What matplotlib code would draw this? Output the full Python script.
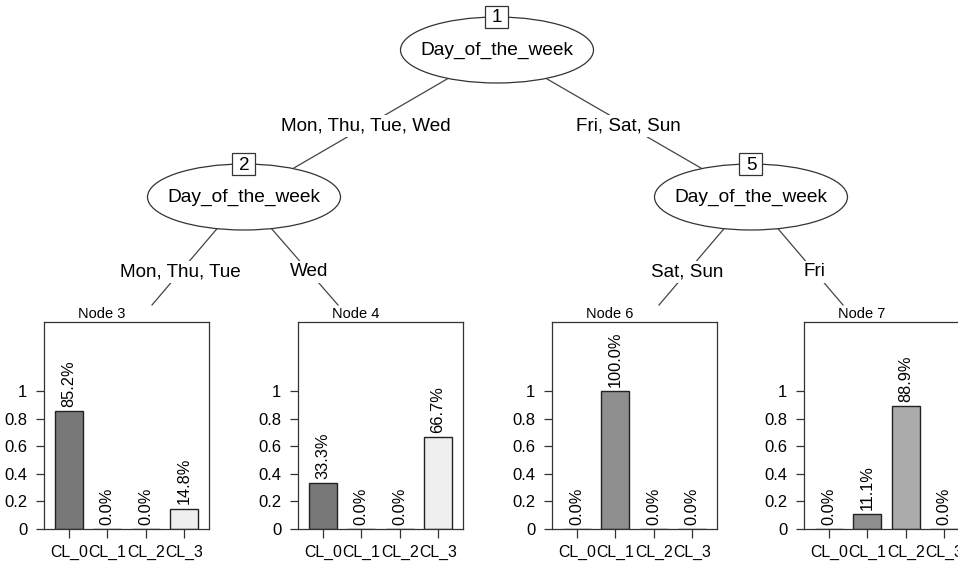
import matplotlib
matplotlib.use("Agg")
import matplotlib.pyplot as plt
from matplotlib.patches import Ellipse, Rectangle

plt.rcParams['font.family'] = ['Liberation Sans', 'DejaVu Sans']

#%%
# tree structure : inner nodes, edges, terminal nodes

inner_ids = [1, 2, 5]
inner_vars = ["Day_of_the_week", "Day_of_the_week", "Day_of_the_week"]

edge_labels_top = ["Mon, Thu, Tue, Wed", "Fri, Sat, Sun"]
edge_labels_leaf = ["Mon, Thu, Tue", "Wed", "Sat, Sun", "Fri"]

classes = ["CL_0", "CL_1", "CL_2", "CL_3"]
leaf_ids = [3, 4, 6, 7]
node3 = [0.852, 0.0, 0.0, 0.148]
node4 = [0.333, 0.0, 0.0, 0.667]
node6 = [0.0, 1.0, 0.0, 0.0]
node7 = [0.0, 0.111, 0.889, 0.0]
leaf_probs = [node3, node4, node6, node7]

class_colors = ["#787878", "#8f8f8f", "#ababab", "#efefef"]

#%%
# layout in pixels (origin top-left)
W, H = 958, 564
inner_xy = [(497, 50), (244, 197), (751, 197)]
ell_w, ell_h = 193, 66
leaf_top = [(152, 305), (338, 305), (659, 305), (843, 305)]
panel_left = [44, 298, 552, 804]
panel_w, panel_top, panel_bottom = 165, 322, 529

fig = plt.figure(figsize=(W / 100, H / 100), dpi=100)
ax = fig.add_axes([0, 0, 1, 1])
ax.set_xlim(0, W)
ax.set_ylim(H, 0)
ax.axis("off")

line_kw = dict(color="#444444", lw=0.9, zorder=1)
lab_kw = dict(fontsize=13.6, ha="center", va="center", zorder=3,
              bbox=dict(boxstyle="square,pad=0.15", fc="white", ec="none"))

# root -> inner children
(x1, y1) = inner_xy[0]
for (cx, cy), lab in zip(inner_xy[1:], edge_labels_top):
    ax.plot([x1, cx], [y1, cy], **line_kw)
    t = (126 - y1) / (cy - y1)
    ax.text(x1 + (cx - x1) * t, 126, lab, **lab_kw)

# inner -> terminal
parents = [inner_xy[1], inner_xy[1], inner_xy[2], inner_xy[2]]
for (px, py), (cx, cy), lab in zip(parents, leaf_top, edge_labels_leaf):
    ax.plot([px, cx], [py, cy], **line_kw)
    t = (272 - py) / (cy - py)
    ax.text(px + (cx - px) * t, 272, lab, **lab_kw)

# inner node ellipses with id boxes
for nid, var, (x, y) in zip(inner_ids, inner_vars, inner_xy):
    ax.add_patch(Ellipse((x, y), ell_w, ell_h, fc="white", ec="#333333",
                         lw=0.9, zorder=2))
    ax.text(x, y, var, fontsize=13.8, ha="center", va="center", zorder=3)
    by = y - ell_h / 2
    ax.add_patch(Rectangle((x - 11.5, by - 11), 23, 22, fc="white",
                           ec="#333333", lw=0.9, zorder=4))
    ax.text(x, by + 1, str(nid), fontsize=13.6, ha="center", va="center",
            zorder=5)

#%%
# terminal node bar charts
xpos = list(range(len(classes)))
for nid, probs, x0 in zip(leaf_ids, leaf_probs, panel_left):
    ax.text(x0 + panel_w / 2 - 25, 314, "Node %d" % nid, fontsize=10.5,
            ha="center", va="center")
    pa = fig.add_axes([x0 / W, (H - panel_bottom) / H, panel_w / W,
                       (panel_bottom - panel_top) / H])
    pa.bar(xpos, probs, width=0.73, color=class_colors,
           edgecolor="#222222", linewidth=1)
    for xi, v in zip(xpos, probs):
        pa.annotate("%.1f%%" % (v * 100), (xi, v), xytext=(0, 3),
                    textcoords="offset points", rotation=90, ha="center",
                    va="bottom", fontsize=11.8)
    pa.set_xlim(-0.655, 3.655)
    pa.set_ylim(0, 1.5)
    pa.set_yticks([0, 0.2, 0.4, 0.6, 0.8, 1])
    pa.set_yticklabels(["0", "0.2", "0.4", "0.6", "0.8", "1"])
    pa.set_xticks(xpos)
    pa.set_xticklabels(classes)
    pa.tick_params(axis="y", length=6, width=0.9, color="#333333",
                   labelsize=12, pad=6)
    pa.tick_params(axis="x", length=6.5, width=0.9, color="#333333",
                   labelsize=11.4, pad=5)
    for s in pa.spines.values():
        s.set_color("#333333")
        s.set_linewidth(0.9)

fig.savefig("out.png", dpi=100)
